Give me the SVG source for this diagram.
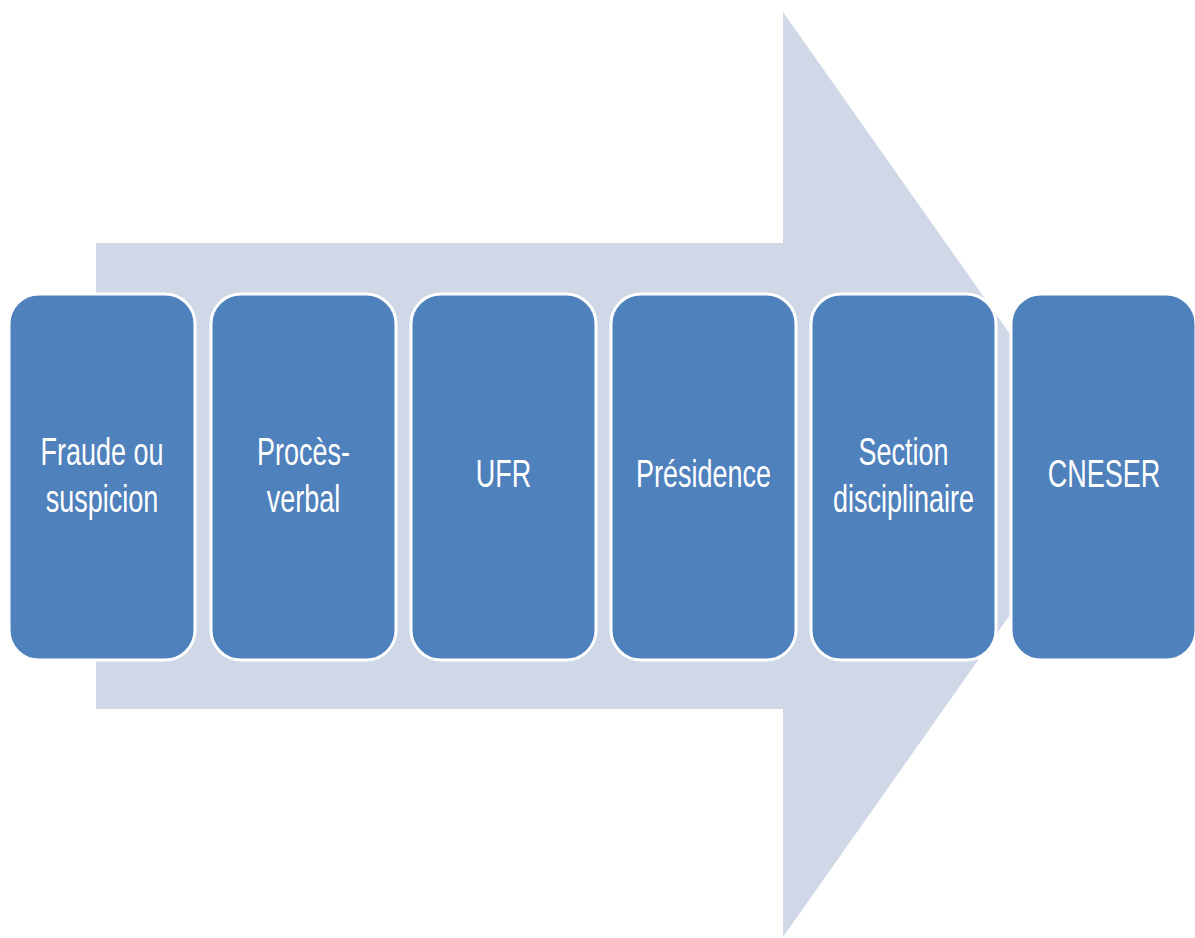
<svg xmlns="http://www.w3.org/2000/svg" width="1195" height="938" viewBox="0 0 1195 938">
<style>
.box{fill:#4F81BD;stroke:#FFFFFF;stroke-width:3}
.lbl{font-family:"Liberation Sans",Arial,sans-serif;font-size:27px;fill:#FFFFFF;text-anchor:middle}
</style>
<rect width="1195" height="938" fill="#FFFFFF"/>
<g id="arrow">
<path d="M96,243 L783,243 L783,12 L1109,474.5 L783,937 L783,709 L96,709 Z" fill="#D0D8E8"/>
</g>
<g id="connectors"></g>
<g id="n1">
<rect class="box" x="9" y="294" width="186" height="366" rx="30" ry="30"/>
<text class="lbl" transform="translate(102,465) scale(1,1.45)">Fraude ou</text>
<text class="lbl" transform="translate(102,512) scale(1,1.45)">suspicion</text>
</g>
<g id="n2">
<rect class="box" x="211" y="294" width="185" height="366" rx="30" ry="30"/>
<text class="lbl" transform="translate(303.5,465) scale(1,1.45)">Procès-</text>
<text class="lbl" transform="translate(303.5,512) scale(1,1.45)">verbal</text>
</g>
<g id="n3">
<rect class="box" x="411" y="294" width="185" height="366" rx="30" ry="30"/>
<text class="lbl" transform="translate(503.5,487) scale(1,1.45)">UFR</text>
</g>
<g id="n4">
<rect class="box" x="611" y="294" width="185" height="366" rx="30" ry="30"/>
<text class="lbl" transform="translate(703.5,487) scale(1,1.45)">Présidence</text>
</g>
<g id="n5">
<rect class="box" x="811" y="294" width="185" height="366" rx="30" ry="30"/>
<text class="lbl" transform="translate(903.5,465) scale(1,1.45)">Section</text>
<text class="lbl" transform="translate(903.5,512) scale(1,1.45)">disciplinaire</text>
</g>
<g id="n6">
<rect class="box" x="1011" y="294" width="185" height="366" rx="30" ry="30"/>
<text class="lbl" transform="translate(1104,487) scale(1,1.45)">CNESER</text>
</g>
</svg>
